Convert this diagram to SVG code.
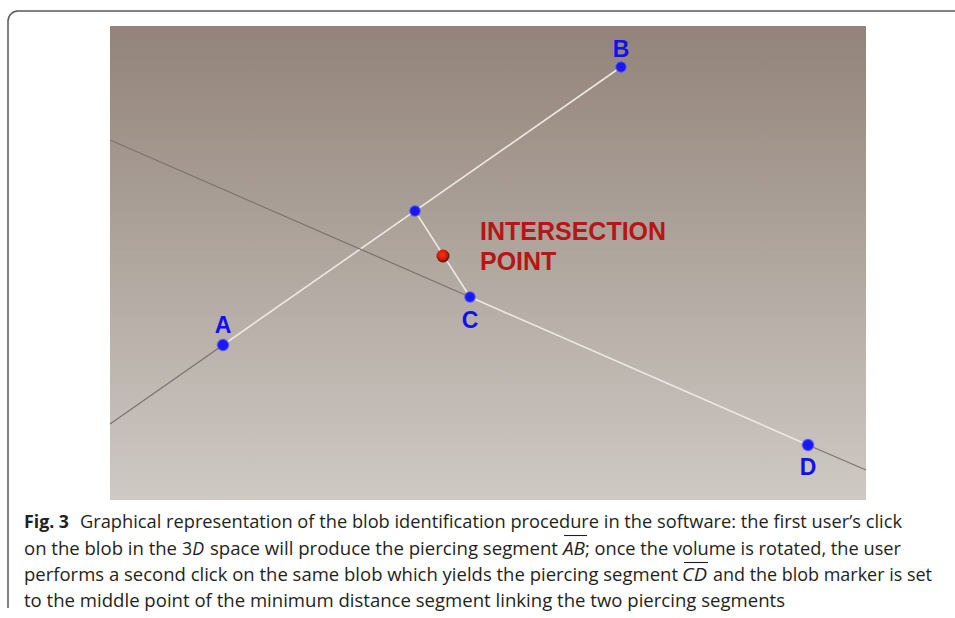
<svg xmlns="http://www.w3.org/2000/svg" width="955" height="618" viewBox="0 0 955 618">
<defs>
<linearGradient id="bg" x1="0" y1="0" x2="0" y2="1">
<stop offset="0" stop-color="#93837a"/>
<stop offset="0.5" stop-color="#b0a79f"/>
<stop offset="1" stop-color="#cfc9c4"/>
</linearGradient>
<radialGradient id="blueDot">
<stop offset="0" stop-color="#1515ff"/>
<stop offset="0.7" stop-color="#1a1af5"/>
<stop offset="1" stop-color="#6a6ae8" stop-opacity="0.6"/>
</radialGradient>
<radialGradient id="redDot" cx="0.45" cy="0.4">
<stop offset="0" stop-color="#ff3010"/>
<stop offset="0.75" stop-color="#d41a08"/>
<stop offset="1" stop-color="#6a1a10"/>
</radialGradient>
</defs>
<style>
.far{stroke:#7b736d;stroke-width:1.2;fill:none}
.seg{stroke:#ece8e2;stroke-width:1.6;fill:none}
.lbl{font-family:"Liberation Sans",Arial,sans-serif;font-weight:bold;font-size:23px;fill:#1212e6;text-anchor:middle}
.ip{font-family:"Liberation Sans",Arial,sans-serif;font-weight:bold;font-size:25px;fill:#b51616}
.cap{font-family:"Open Sans","Noto Sans",sans-serif;font-size:17.5px;fill:#231f20}
.it{font-style:italic}
.bar{stroke:#231f20;stroke-width:1.1}
</style>
<rect width="955" height="618" fill="#ffffff"/>
<path d="M8,608 V21 A10,10 0 0 1 18,11 H955" fill="none" stroke="#5a5a5a" stroke-width="1.5"/>
<rect x="110" y="26" width="756" height="474" fill="url(#bg)"/>
<g id="connectors">
<line class="far" x1="110" y1="424" x2="223" y2="345"/>
<line class="seg" x1="223" y1="345" x2="621" y2="67"/>
<line class="far" x1="110" y1="140" x2="470" y2="297"/>
<line class="seg" x1="470" y1="297" x2="808" y2="445"/>
<line class="far" x1="808" y1="445" x2="866" y2="470"/>
<line class="seg" x1="415" y1="211" x2="470" y2="297"/>
</g>
<g id="nodeA"><circle cx="223" cy="345" r="6.5" fill="url(#blueDot)"/><text class="lbl" x="223" y="333">A</text></g>
<g id="nodeB"><circle cx="621" cy="67" r="6" fill="url(#blueDot)"/><text class="lbl" x="621" y="57">B</text></g>
<g id="nodeP1"><circle cx="415" cy="211" r="6" fill="url(#blueDot)"/></g>
<g id="nodeC"><circle cx="470" cy="297" r="6" fill="url(#blueDot)"/><text class="lbl" x="470" y="328">C</text></g>
<g id="nodeD"><circle cx="808" cy="445" r="6.5" fill="url(#blueDot)"/><text class="lbl" x="808" y="475">D</text></g>
<g id="intersection"><circle cx="443" cy="256" r="6.5" fill="url(#redDot)"/>
<text class="ip" x="480" y="240">INTERSECTION</text>
<text class="ip" x="480" y="270">POINT</text></g>
<g id="caption">
<text class="cap" x="24" y="528" font-weight="bold" textLength="45" lengthAdjust="spacingAndGlyphs">Fig. 3</text>
<text class="cap" x="80" y="528" textLength="822" lengthAdjust="spacingAndGlyphs">Graphical representation of the blob identification procedure in the software: the first user’s click</text>
<text class="cap" x="24" y="554.5" textLength="153" lengthAdjust="spacingAndGlyphs">on the blob in the</text>
<text class="cap" x="182" y="554.5" textLength="22" lengthAdjust="spacingAndGlyphs">3<tspan class="it">D</tspan></text>
<text class="cap" x="210" y="554.5" textLength="348" lengthAdjust="spacingAndGlyphs">space will produce the piercing segment</text>
<text class="cap it" x="563" y="554.5" textLength="22" lengthAdjust="spacingAndGlyphs">AB</text>
<line class="bar" x1="564" y1="535.5" x2="587" y2="535.5"/>
<text class="cap" x="585" y="554.5" textLength="316" lengthAdjust="spacingAndGlyphs">; once the volume is rotated, the user</text>
<text class="cap" x="24" y="581" textLength="654" lengthAdjust="spacingAndGlyphs">performs a second click on the same blob which yields the piercing segment</text>
<text class="cap it" x="682" y="581" textLength="25" lengthAdjust="spacingAndGlyphs">CD</text>
<line class="bar" x1="684" y1="562.5" x2="708" y2="562.5"/>
<text class="cap" x="713" y="581" textLength="219" lengthAdjust="spacingAndGlyphs">and the blob marker is set</text>
<text class="cap" x="24" y="607" textLength="761" lengthAdjust="spacingAndGlyphs">to the middle point of the minimum distance segment linking the two piercing segments</text>
</g>
</svg>
